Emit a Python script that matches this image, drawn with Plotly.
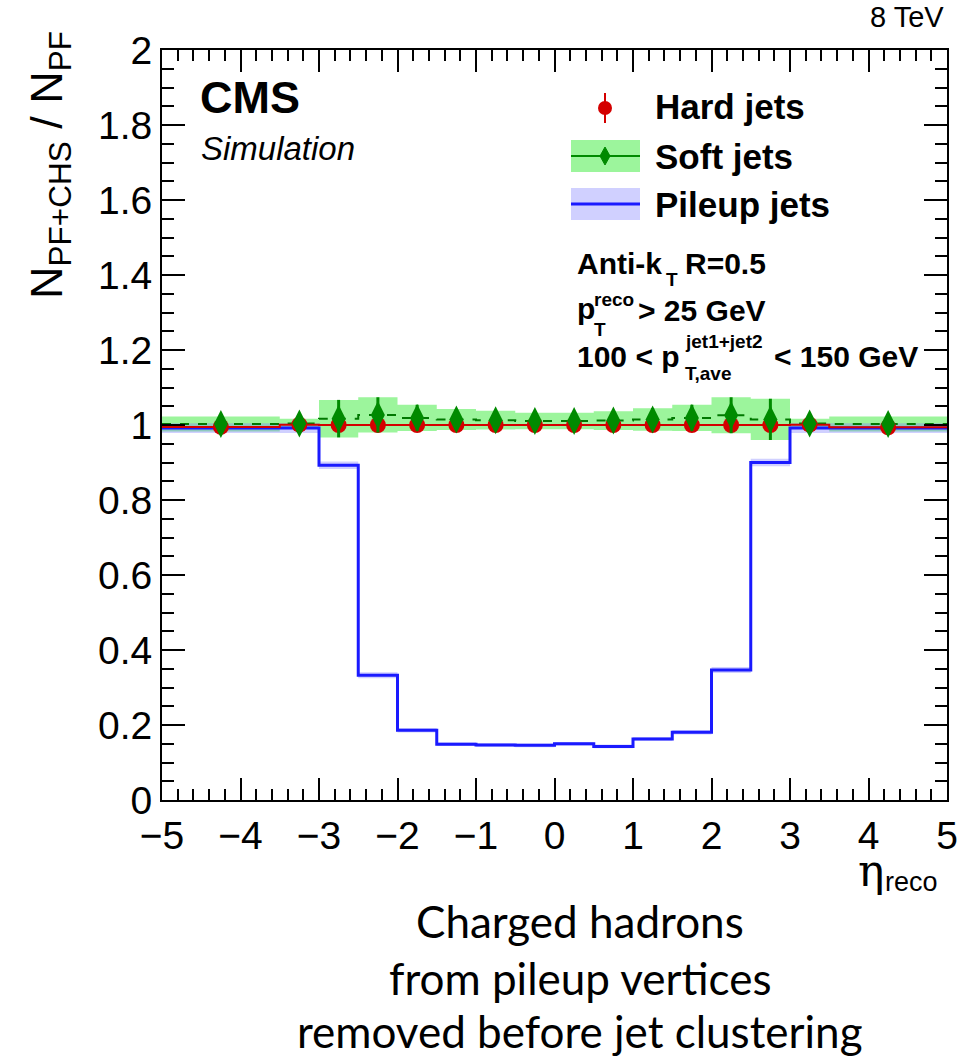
import plotly.graph_objects as go

# Bin edges in eta_reco
edges = [-5.0, -3.5, -3.0, -2.5, -2.0, -1.5, -1.0, -0.5, 0.0, 0.5, 1.0, 1.5, 2.0, 2.5, 3.0, 3.5, 5.0]

# Ratio N(PF+CHS) / N(PF) per bin
hard = [0.995, 1.001, 1.000, 1.000, 1.000, 1.000, 1.000, 1.000,
        1.000, 1.000, 1.000, 1.000, 1.000, 1.000, 1.001, 0.994]
hard_err = [0.004, 0.003, 0.004, 0.004, 0.003, 0.003, 0.003, 0.003,
            0.003, 0.003, 0.003, 0.003, 0.004, 0.004, 0.003, 0.004]

soft = [1.003, 1.004, 1.017, 1.027, 1.019, 1.015, 1.013, 1.011,
        1.011, 1.012, 1.015, 1.019, 1.026, 1.015, 1.004, 1.003]
soft_err = [0.020, 0.013, 0.050, 0.047, 0.035, 0.028, 0.025, 0.022,
            0.022, 0.025, 0.030, 0.035, 0.048, 0.055, 0.013, 0.020]

pileup = [0.992, 0.992, 0.893, 0.333, 0.186, 0.149, 0.147, 0.146,
          0.150, 0.143, 0.163, 0.181, 0.347, 0.900, 0.992, 0.992]
pileup_err = [0.013, 0.013, 0.010, 0.008, 0.006, 0.005, 0.005, 0.005,
              0.005, 0.005, 0.005, 0.006, 0.008, 0.010, 0.013, 0.013]

x_ticks = [-5, -4, -3, -2, -1, 0, 1, 2, 3, 4, 5]
y_ticks = [0, 0.2, 0.4, 0.6, 0.8, 1, 1.2, 1.4, 1.6, 1.8, 2]

centers = [(a + b) / 2 for a, b in zip(edges[:-1], edges[1:])]


def step(vals):
    return list(vals) + [vals[-1]]


# Page geometry (pixels)
W, H = 970, 1057
L, R, T, B = 162, 23, 50, 257
PW, PH = W - L - R, H - T - B


def px(x):
    return (x - L) / PW


def py(y):
    return (H - B - y) / PH


RED = "#d40000"
GREEN = "#008a00"
GREEN_BAND = "#9cf59c"
BLUE = "#1a1aff"
BLUE_BAND = "rgba(120,120,255,0.35)"
FONT = "Liberation Sans"

fig = go.Figure()

# Soft-jet uncertainty band
fig.add_trace(go.Scatter(x=edges, y=step([v - e for v, e in zip(soft, soft_err)]),
                         mode="lines", line=dict(width=0, shape="hv"),
                         showlegend=False, hoverinfo="skip"))
fig.add_trace(go.Scatter(x=edges, y=step([v + e for v, e in zip(soft, soft_err)]),
                         mode="lines", line=dict(width=0, shape="hv"),
                         fill="tonexty", fillcolor=GREEN_BAND,
                         showlegend=False, hoverinfo="skip"))

# Pileup-jet uncertainty band
fig.add_trace(go.Scatter(x=edges, y=step([v - e for v, e in zip(pileup, pileup_err)]),
                         mode="lines", line=dict(width=0, shape="hv"),
                         showlegend=False, hoverinfo="skip"))
fig.add_trace(go.Scatter(x=edges, y=step([v + e for v, e in zip(pileup, pileup_err)]),
                         mode="lines", line=dict(width=0, shape="hv"),
                         fill="tonexty", fillcolor=BLUE_BAND,
                         showlegend=False, hoverinfo="skip"))

# Step lines
fig.add_trace(go.Scatter(x=edges, y=step(pileup), mode="lines",
                         line=dict(color=BLUE, width=3, shape="hv"),
                         name="Pileup jets", showlegend=False))
fig.add_trace(go.Scatter(x=edges, y=step(soft), mode="lines",
                         line=dict(color="#007800", width=2, shape="hv", dash="dash"),
                         showlegend=False))
fig.add_trace(go.Scatter(x=edges, y=step(hard), mode="lines",
                         line=dict(color=RED, width=2, shape="hv"),
                         showlegend=False))

# Markers
fig.add_trace(go.Scatter(x=centers, y=hard, mode="markers", name="Hard jets",
                         marker=dict(symbol="circle", size=16, color=RED),
                         error_y=dict(type="data", array=hard_err, color=RED,
                                      thickness=2, width=0),
                         showlegend=False))
fig.add_trace(go.Scatter(x=centers, y=soft, mode="markers", name="Soft jets",
                         marker=dict(symbol="diamond-tall", size=20, color=GREEN),
                         error_y=dict(type="data", array=soft_err, color=GREEN,
                                      thickness=3, width=0),
                         showlegend=False))

axis_common = dict(
    showline=True, linecolor="black", linewidth=2, mirror="allticks",
    ticks="inside", tickcolor="black", tickwidth=2,
    showgrid=False, zeroline=False,
    tickfont=dict(family=FONT, size=39, color="black"),
)

fig.update_xaxes(range=[-5, 5], tickmode="array", tickvals=x_ticks,
                 ticklen=22,
                 minor=dict(dtick=0.2, ticklen=11, ticks="inside",
                            tickcolor="black", tickwidth=2, showgrid=False),
                 **axis_common)
fig.update_yaxes(range=[0, 2], tickmode="array", tickvals=y_ticks,
                 ticklen=23,
                 minor=dict(dtick=0.05, ticklen=12, ticks="inside",
                            tickcolor="black", tickwidth=2, showgrid=False),
                 **axis_common)

shapes = []
# Legend keys
# Hard jets: red point with error bar
shapes.append(dict(type="line", xref="paper", yref="paper",
                   x0=px(605), x1=px(605), y0=py(93), y1=py(123),
                   line=dict(color=RED, width=2)))
shapes.append(dict(type="circle", xref="paper", yref="paper",
                   x0=px(598), x1=px(612), y0=py(101), y1=py(115),
                   fillcolor=RED, line=dict(color=RED, width=0)))
# Soft jets: band, line and diamond
shapes.append(dict(type="rect", xref="paper", yref="paper",
                   x0=px(571), x1=px(640), y0=py(140), y1=py(172),
                   fillcolor=GREEN_BAND, line=dict(width=0)))
shapes.append(dict(type="line", xref="paper", yref="paper",
                   x0=px(571), x1=px(640), y0=py(156), y1=py(156),
                   line=dict(color=GREEN, width=2)))
shapes.append(dict(type="path", xref="paper", yref="paper",
                   path=f"M {px(605)} {py(147)} L {px(610)} {py(156)} "
                        f"L {px(605)} {py(165)} L {px(600)} {py(156)} Z",
                   fillcolor=GREEN, line=dict(color=GREEN, width=1)))
# Pileup jets: band and line
shapes.append(dict(type="rect", xref="paper", yref="paper",
                   x0=px(571), x1=px(640), y0=py(188), y1=py(220),
                   fillcolor="rgba(120,120,255,0.35)", line=dict(width=0)))
shapes.append(dict(type="line", xref="paper", yref="paper",
                   x0=px(571), x1=px(640), y0=py(204), y1=py(204),
                   line=dict(color=BLUE, width=3)))


def text(s, x, y, size, xanchor="left", bold=False, italic=False,
         family=FONT, yanchor="middle", angle=0):
    if bold:
        s = f"<b>{s}</b>"
    if italic:
        s = f"<i>{s}</i>"
    return dict(text=s, xref="paper", yref="paper", x=px(x), y=py(y),
                xanchor=xanchor, yanchor=yanchor, showarrow=False,
                textangle=angle,
                font=dict(family=family, size=size, color="black"))


ann = [
    text("8 TeV", 946, 17, 29, xanchor="right"),
    text("CMS", 198, 98, 45, bold=True),
    text("Simulation", 199, 148, 33, italic=True),
    text("Hard jets", 653, 107, 35, bold=True),
    text("Soft jets", 653, 156, 35, bold=True),
    text("Pileup jets", 653, 204, 35, bold=True),
    # Anti-kT R=0.5
    text("Anti-k", 575, 263, 30, bold=True),
    text("T", 664, 279, 19, bold=True),
    text("R=0.5", 683, 263, 30, bold=True),
    # pT reco > 25 GeV
    text("p", 575, 308, 30, bold=True),
    text("reco", 592, 299, 19, bold=True),
    text("T", 592, 329, 19, bold=True),
    text("> 25 GeV", 636, 310, 30, bold=True),
    # 100 < pT,ave < 150 GeV
    text("100 < p", 575, 356, 30, bold=True),
    text("jet1+jet2", 683, 341, 19, bold=True),
    text("T,ave", 683, 373, 19, bold=True),
    text("< 150 GeV", 772, 356, 30, bold=True),
    # Axis titles
    text("η", 856, 870, 44, family="DejaVu Serif"),
    text("reco", 883, 882, 27),
    dict(text="N<sub>PF+CHS</sub> / N<sub>PF</sub>", xref="paper", yref="paper",
         x=px(50), y=py(29), xanchor="center", yanchor="top", showarrow=False,
         textangle=-90, font=dict(family=FONT, size=45, color="black")),
    # Caption
    text("Charged hadrons", 580, 921, 44, xanchor="center", family="Lato"),
    text("from pileup vertices", 580, 978, 44, xanchor="center", family="Lato"),
    text("removed before jet clustering", 580, 1031, 44, xanchor="center", family="Lato"),
]

fig.update_layout(
    width=W, height=H,
    margin=dict(l=L, r=R, t=T, b=B, autoexpand=False),
    paper_bgcolor="white", plot_bgcolor="white",
    showlegend=False,
    shapes=shapes, annotations=ann,
    font=dict(family=FONT, color="black"),
)

fig.write_html("out.html")
